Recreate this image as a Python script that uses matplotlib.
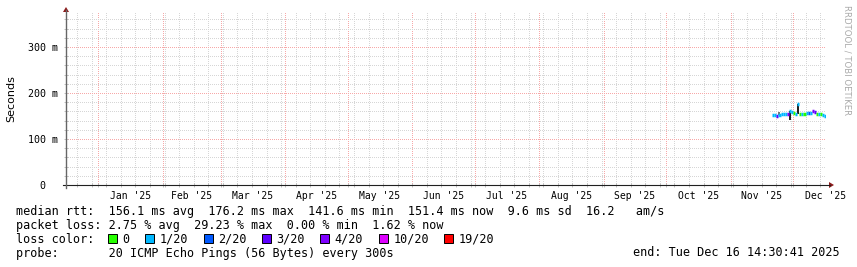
import datetime as dt
import matplotlib
matplotlib.use("Agg")
import matplotlib.pyplot as plt
import matplotlib.dates as mdates
from matplotlib.patches import Rectangle, Polygon
from matplotlib.lines import Line2D

# time window of the graph
t_start = dt.datetime(2024, 12, 16, 14, 30, 41)
t_end = dt.datetime(2025, 12, 16, 14, 30, 41)

# daily values, 2025-11-21 .. 2025-12-16
first_day = dt.datetime(2025, 11, 21)
median_ms = [153, 152, 150, 153, 154, 154, 154, 155, 160, 158, 156, 155, 176,
             155, 155, 154, 156, 157, 157, 160, 159, 155, 154, 154, 153, 150]
loss_idx = [1, 1, 3, 1, 1, 1, 1, 4, 1, 1, 0, 1, 1,
            0, 1, 0, 1, 2, 1, 4, 3, 0, 1, 0, 1, 1]
smoke_lo_ms = [153, 152, 150, 153, 154, 154, 154, 155, 142, 158, 156, 155, 155,
               155, 155, 154, 156, 157, 157, 160, 159, 155, 154, 154, 153, 150]
smoke_hi_ms = [153, 152, 150, 158, 154, 154, 154, 155, 160, 158, 156, 155, 176,
               155, 155, 154, 156, 157, 157, 160, 159, 155, 154, 154, 153, 150]

loss_labels = ["0", "1/20", "2/20", "3/20", "4/20", "10/20", "19/20"]
loss_colors = ["#26ff00", "#00b8ff", "#0059ff", "#5e00ff", "#7e00ff", "#dd00ff", "#ff0000"]

y_ticks = [0, 0.1, 0.2, 0.3]
y_tick_labels = ["0  ", "100 m", "200 m", "300 m"]
month_labels = ["Jan '25", "Feb '25", "Mar '25", "Apr '25", "May '25", "Jun '25",
                "Jul '25", "Aug '25", "Sep '25", "Oct '25", "Nov '25", "Dec '25"]

legend_rows = [
    "median rtt:  156.1 ms avg  176.2 ms max  141.6 ms min  151.4 ms now  9.6 ms sd  16.2   am/s",
    "packet loss: 2.75 % avg  29.23 % max  0.00 % min  1.62 % now",
    "loss color:",
    "probe:       20 ICMP Echo Pings (56 Bytes) every 300s",
]
end_text = "end: Tue Dec 16 14:30:41 2025"

W, H = 857, 267
mono = "DejaVu Sans Mono"


def fx(x):
    return x / W


def fy(y):
    return 1 - y / H


fig = plt.figure(figsize=(W / 100, H / 100), dpi=100)
ax = fig.add_axes([fx(66), fy(185), fx(825.5) - fx(66), fy(12) - fy(185)])

# smoke and median, one step per day
for i, m in enumerate(median_ms):
    d0 = mdates.date2num(first_day + dt.timedelta(days=i))
    d1 = d0 + 1
    if smoke_hi_ms[i] > smoke_lo_ms[i]:
        shade = "#202020" if smoke_hi_ms[i] - smoke_lo_ms[i] > 8 else "#777777"
        ax.add_patch(Rectangle((d0, smoke_lo_ms[i] / 1000), 0.9,
                               (smoke_hi_ms[i] - smoke_lo_ms[i]) / 1000,
                               color=shade, lw=0, zorder=3))
    ax.hlines(m / 1000, d0, d1, colors=loss_colors[loss_idx[i]], lw=2.5, zorder=4)

ax.set_xlim(mdates.date2num(t_start), mdates.date2num(t_end))
ax.set_ylim(0, 0.376)

# grid: sundays minor, month starts major
month_starts = [dt.datetime(2025, m, 1) for m in range(1, 13)]
sundays = []
d = dt.datetime(2024, 12, 22)
while d < t_end:
    sundays.append(d)
    d += dt.timedelta(days=7)
ax.set_xticks(mdates.date2num(month_starts))
ax.set_xticks(mdates.date2num(sundays), minor=True)
ax.set_xticklabels([])
ax.set_yticks(y_ticks)
ax.set_yticks([v / 100 for v in range(2, 38, 2)], minor=True)
ax.set_yticklabels(y_tick_labels, family=mono, fontsize=7.2)

ax.grid(which="minor", color="#d6d6d6", lw=0.72, ls=(0.5, (1, 1)), zorder=1)
ax.grid(which="major", color="#f7a8a8", lw=0.72, ls=(0.5, (1, 1)), zorder=2)
ax.tick_params(which="both", direction="inout", length=3, width=0.7, color="#c0c0c0")
ax.tick_params(axis="y", which="major", pad=4)

for s in ["top", "right", "bottom", "left"]:
    ax.spines[s].set_visible(False)

# axes with arrow heads
fig.add_artist(Line2D([fx(63), fx(830)], [fy(185), fy(185)], color="#202020", lw=0.8))
fig.add_artist(Line2D([fx(66), fx(66)], [fy(188), fy(10)], color="#666666", lw=1.0))
fig.add_artist(Polygon([[fx(829), fy(182)], [fx(834), fy(185)], [fx(829), fy(188)]],
                       closed=True, color="#8b1a1a", lw=0))
fig.add_artist(Polygon([[fx(63), fy(12)], [fx(66), fy(7)], [fx(69), fy(12)]],
                       closed=True, color="#8b1a1a", lw=0))

# month labels centered in each month
for i, lab in enumerate(month_labels):
    a = month_starts[i]
    b = month_starts[i + 1] if i < 11 else dt.datetime(2026, 1, 1)
    mid = mdates.date2num(a) + (mdates.date2num(b) - mdates.date2num(a)) / 2
    ax.text(mid, -14 / (185 - 12) * 0.376, lab, family=mono, fontsize=7,
            ha="center", va="baseline", clip_on=False)

fig.text(fx(11), fy(99), "Seconds", rotation=90, ha="center", va="center",
         fontsize=8, family="DejaVu Sans")
fig.text(fx(847), fy(5), "RRDTOOL / TOBI OETIKER", rotation=270, ha="center",
         va="top", fontsize=6.1, color="#aaaaaa", family="DejaVu Sans")

# legend text
baselines = [215.5, 229, 243, 256.5]
for row, yb in zip(legend_rows, baselines):
    fig.text(fx(16), fy(yb), row, family=mono, fontsize=8.45, va="baseline", ha="left")
fig.text(fx(840), fy(baselines[3]), end_text, family=mono, fontsize=8.45,
         va="baseline", ha="right")

# loss color boxes
cw = 7.1
x = 108
for lab, col in zip(loss_labels, loss_colors):
    fig.add_artist(Rectangle((fx(x), fy(baselines[2])), fx(9), 9 / H,
                             facecolor=col, edgecolor="black", lw=0.7))
    fig.text(fx(x + 14.5), fy(baselines[2]), lab, family=mono, fontsize=8.45,
             va="baseline", ha="left")
    x += 14.5 + len(lab) * cw + 15.5

fig.savefig("out.png", dpi=100)
